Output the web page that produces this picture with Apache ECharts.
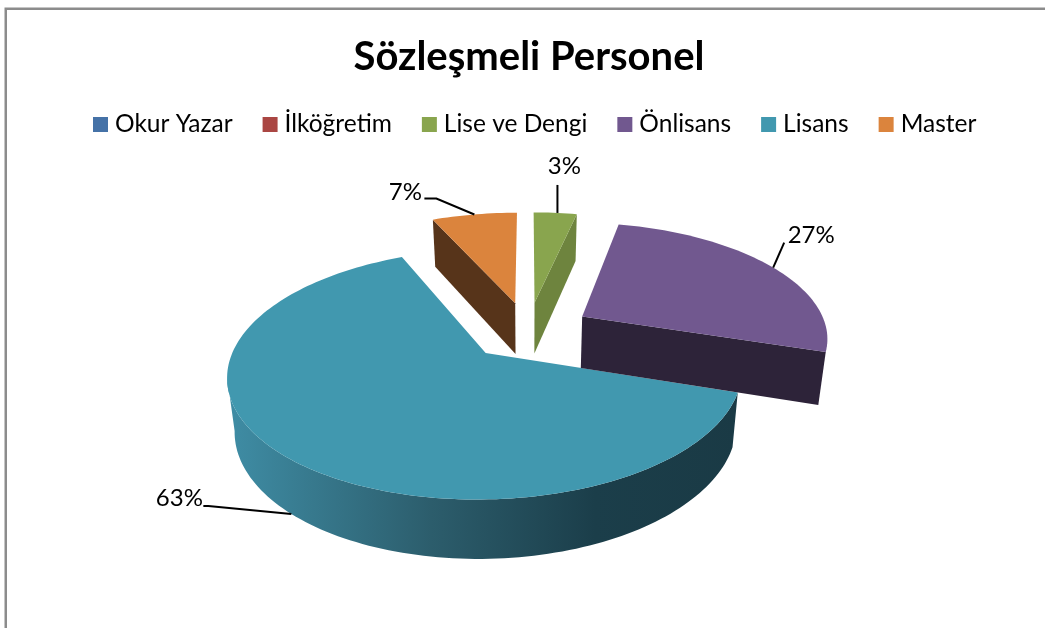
<!DOCTYPE html>
<html lang="tr" style="height: 100%">
<head>
    <meta charset="UTF-8">
    <title>Sözleşmeli Personel</title>
    <script src="https://cdn.jsdelivr.net/npm/echarts@6/dist/echarts.min.js"></script>
</head>
<body style="height: 100%; margin: 0; background: #fff">
<div id="main" style="width: 1045px; height: 628px"></div>
<script>
    var categories = ['Okur Yazar', 'İlköğretim', 'Lise ve Dengi', 'Önlisans', 'Lisans', 'Master'];
    var values = [0, 0, 3.4, 26.6, 63.3, 6.7];
    var topColors = ['#4572a7', '#aa4643', '#89a54e', '#71588f', '#4198af', '#db843d'];
    var wallColors = ['#35587f', '#803533', '#6e843e', '#2d2339', '#1a3c48', '#57341a'];

    // fake 3d pie: tilted plane seen in perspective, then pushed down for the wall
    var cx = 528, cy = 331, radius = 245.5, tilt = 114, dist = 6;
    var explodes = [0.26, 0.26, 0.26, 0.26, 0.25, 0.26];
    var drawOrder = [4, 2, 5, 3];
    var total = values.reduce(function (a, b) { return a + b; }, 0);

    // leader line per category: where on the rim, bent points and text relative to it
    var leaders = {
        2: {at: 0.55, lower: false, path: [[0, -28]], text: [7, -47]},
        3: {at: 0.51, lower: false, path: [[11, -25]], text: [38, -32]},
        4: {at: 0.5, lower: true, path: [[-83, -8], [-88, -8]], text: [-112, -16]},
        5: {at: 0.5, lower: false, path: [[-38, -16], [-50, -16]], text: [-69, -22]}
    };

    function project(x, y) {
        var f = dist / (dist + y);
        return [cx + radius * x * f, cy - tilt * y * f, f];
    }

    function lower(p) {
        return [cx + (p[0] - cx) * 0.975, p[1] + 22 + 30 * p[2]];
    }

    function sliceAngles(idx) {
        var before = 0;
        for (var i = 0; i < idx; i++) before += values[i];
        var a0 = before / total * Math.PI * 2;
        return [a0, a0 + values[idx] / total * Math.PI * 2];
    }

    function slicePoint(idx, a, r) {
        var ang = sliceAngles(idx);
        var mid = (ang[0] + ang[1]) / 2;
        var e = explodes[idx];
        return project(e * Math.sin(mid) + r * Math.sin(a), e * Math.cos(mid) + r * Math.cos(a));
    }

    function arcPoints(idx, a0, a1) {
        var pts = [];
        var n = Math.max(2, Math.ceil((a1 - a0) * 40));
        for (var i = 0; i <= n; i++) pts.push(slicePoint(idx, a0 + (a1 - a0) * i / n, 1));
        return pts;
    }

    function xy(p) { return [p[0], p[1]]; }

    function poly(points, fill, z) {
        return {type: 'polygon', z2: z, shape: {points: points}, style: {fill: fill}};
    }

    function renderSlice(idx, value) {
        if (!value) return {type: 'group', children: []};
        var ang = sliceAngles(idx);
        var apex = slicePoint(idx, 0, 0);
        var rim = arcPoints(idx, ang[0], ang[1]);
        var first = rim[0], last = rim[rim.length - 1];
        var kids = [];

        if (categories[idx] === 'Lisans') {
            // outer wall, shaded from left to right, stops at the left silhouette
            var leftmost = 0;
            rim.forEach(function (p, i) { if (p[0] < rim[leftmost][0]) leftmost = i; });
            var front = rim.slice(0, leftmost + 1);
            var wall = front.map(xy).concat(front.slice().reverse().map(lower));
            kids.push(poly(wall, new echarts.graphic.LinearGradient(0, 0, 1, 0, [
                {offset: 0, color: '#3f8da5'},
                {offset: 0.4, color: '#2c5d6c'},
                {offset: 0.72, color: '#1b3e4a'},
                {offset: 1, color: '#1a3a45'}
            ]), 1));
        } else if (categories[idx] === 'Master') {
            kids.push(poly([xy(apex), xy(first), lower(first), lower(apex)], wallColors[idx], 1));
        } else {
            kids.push(poly([xy(apex), xy(last), lower(last), lower(apex)], wallColors[idx], 1));
        }
        kids.push(poly([xy(apex)].concat(rim.map(xy)), topColors[idx], 2));

        var lead = leaders[idx];
        var p = slicePoint(idx, ang[0] + (ang[1] - ang[0]) * lead.at, 1);
        var anchor = lead.lower ? lower(p) : xy(p);
        var line = [anchor].concat(lead.path.map(function (d) {
            return [anchor[0] + d[0], anchor[1] + d[1]];
        }));
        kids.push({type: 'polyline', z2: 3, shape: {points: line}, style: {stroke: '#000', lineWidth: 2, fill: null}});
        kids.push({
            type: 'text', z2: 3,
            style: {
                x: anchor[0] + lead.text[0], y: anchor[1] + lead.text[1],
                text: Math.round(value / total * 100) + '%',
                font: '24px Lato', fill: '#000', align: 'center', verticalAlign: 'middle'
            }
        });
        return {type: 'group', children: kids};
    }

    var series = categories.map(function (name, idx) {
        var order = drawOrder.indexOf(idx);
        return {
            name: name,
            type: 'custom',
            coordinateSystem: 'none',
            z: 2 + order,
            silent: true,
            animation: false,
            itemStyle: {color: topColors[idx]},
            data: [[values[idx]]],
            renderItem: function (params, api) {
                return renderSlice(idx, api.value(0));
            }
        };
    });

    var myChart = echarts.init(document.getElementById('main'));
    myChart.setOption({
        backgroundColor: '#fff',
        animation: false,
        title: {
            text: 'Sözleşmeli Personel',
            left: 524,
            top: 32,
            textAlign: 'center',
            textStyle: {fontFamily: 'Lato', fontSize: 40, fontWeight: 'bold', color: '#000'}
        },
        legend: {
            data: categories,
            left: 93,
            top: 112,
            padding: 0,
            icon: 'rect',
            itemWidth: 15,
            itemHeight: 15,
            itemGap: 30,
            selectedMode: false,
            textStyle: {fontFamily: 'Lato', fontSize: 24.5, color: '#000', padding: [0, 0, 0, 2]}
        },
        graphic: [{
            type: 'polyline',
            silent: true,
            shape: {points: [[5.75, 628], [5.75, 8.75], [1045, 8.75]]},
            style: {stroke: '#8c8c8c', lineWidth: 2.5, fill: null}
        }],
        series: series
    });
</script>
</body>
</html>
